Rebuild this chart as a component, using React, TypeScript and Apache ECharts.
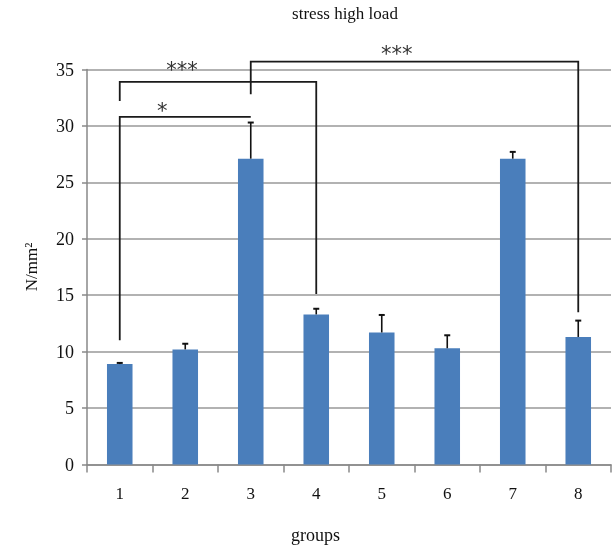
import React, { useEffect, useRef } from "react";
import * as echarts from "echarts";

const categories = ["1", "2", "3", "4", "5", "6", "7", "8"];
const means = [8.9, 10.2, 27.1, 13.3, 11.7, 10.3, 27.1, 11.3];
const errors = [0.1, 0.5, 3.2, 0.5, 1.55, 1.15, 0.6, 1.45];

// significance brackets
const bracketFrom = [0, 0, 2];
const bracketTo = [2, 3, 7];
const bracketLevel = [30.8, 33.9, 35.7];
const bracketLeftEnd = [11.0, 32.2, 32.8];
const bracketRightEnd = [30.8, 15.1, 13.5];
const bracketLabels = ["*", "***", "***"];
const bracketLabelPos = [0.65, 0.95, 4.23];
const bracketLabelValue = [31.6, 35.2, 36.6];

const yTicks = { min: 0, max: 35, interval: 5 };

const FONT = "Liberation Serif";

export default function App() {
  const ref = useRef<HTMLDivElement>(null);
  useEffect(() => {
    if (!ref.current) return;
    const chart = echarts.init(ref.current, null, { renderer: "svg" });
    const errData = means.map((m, i) => [i, m, errors[i]]);
    const bracketData = bracketFrom.map((f, i) => [
      f,
      bracketTo[i],
      bracketLevel[i],
      bracketLeftEnd[i],
      bracketRightEnd[i],
      bracketLabelPos[i],
      bracketLabelValue[i],
      i,
    ]);
    chart.setOption({
      animation: false,
      title: {
        text: "stress high load",
        left: 340,
        top: 0,
        textAlign: "center",
        textStyle: { fontFamily: FONT, fontSize: 17, fontWeight: "normal", color: "#111" },
      },
      grid: { left: 87, right: 2, top: 69.5, bottom: 86.5, containLabel: false },
      xAxis: {
        type: "category",
        data: categories,
        axisLine: { lineStyle: { color: "#888", width: 1.5 } },
        axisTick: { show: true, length: 8, lineStyle: { color: "#888", width: 1.5 } },
        axisLabel: { fontFamily: FONT, fontSize: 17, color: "#111", margin: 20 },
        splitLine: { show: false },
      },
      yAxis: {
        type: "value",
        min: yTicks.min,
        max: yTicks.max,
        interval: yTicks.interval,
        name: "N/mm²",
        nameLocation: "middle",
        nameGap: 47,
        nameRotate: 90,
        nameTextStyle: { fontFamily: FONT, fontSize: 17, color: "#111" },
        axisLine: { show: true, lineStyle: { color: "#888", width: 1.5 } },
        axisTick: { show: true, length: 5, lineStyle: { color: "#888", width: 1.5 } },
        axisLabel: { fontFamily: FONT, fontSize: 18, color: "#111", margin: 13 },
        splitLine: { show: true, lineStyle: { color: "#999", width: 1.5 } },
      },
      graphic: [
        {
          type: "text",
          left: 291,
          top: 526,
          style: { text: "groups", fontFamily: FONT, fontSize: 18, fill: "#111" },
        },
      ],
      series: [
        {
          type: "bar",
          data: means,
          barWidth: "39%",
          itemStyle: { color: "#4a7ebb" },
          z: 2,
        },
        {
          type: "custom",
          data: errData,
          encode: { x: 0, y: 1 },
          clip: false,
          z: 3,
          renderItem: (params: any, api: any) => {
            const i = api.value(0);
            const m = api.value(1);
            const e = api.value(2);
            const p0 = api.coord([i, m]);
            const p1 = api.coord([i, m + e]);
            const cap = 3;
            const style = { stroke: "#111", lineWidth: 1.6 };
            return {
              type: "group",
              children: [
                { type: "line", shape: { x1: p0[0], y1: p0[1], x2: p1[0], y2: p1[1] }, style },
                { type: "line", shape: { x1: p1[0] - cap, y1: p1[1], x2: p1[0] + cap, y2: p1[1] }, style: { stroke: "#111", lineWidth: 2 } },
              ],
            };
          },
        },
        {
          type: "custom",
          data: bracketData,
          encode: { x: 0, y: 2 },
          clip: false,
          z: 4,
          renderItem: (params: any, api: any) => {
            const f = api.value(0);
            const t = api.value(1);
            const lvl = api.value(2);
            const le = api.value(3);
            const re = api.value(4);
            const lp = api.value(5);
            const lv = api.value(6);
            const idx = api.value(7);
            const a = api.coord([f, lvl]);
            const b = api.coord([t, lvl]);
            const aE = api.coord([f, le]);
            const bE = api.coord([t, re]);
            const c0 = api.coord([0, lv]);
            const c1 = api.coord([1, lv]);
            const lx = c0[0] + lp * (c1[0] - c0[0]);
            return {
              type: "group",
              children: [
                {
                  type: "polyline",
                  shape: { points: [[aE[0], aE[1]], [a[0], a[1]], [b[0], b[1]], [bE[0], bE[1]]] },
                  style: { stroke: "#1a1a1a", lineWidth: 1.8, fill: null },
                },
                {
                  type: "text",
                  style: {
                    text: bracketLabels[idx],
                    x: lx,
                    y: c0[1] + 3,
                    align: "center",
                    verticalAlign: "middle",
                    fontFamily: "DejaVu Sans",
                    fontSize: 21,
                    fill: "#333",
                  },
                },
              ],
            };
          },
        },
      ],
    });
    return () => chart.dispose();
  }, []);
  return (
    <div
      ref={ref}
      style={{ position: "fixed", left: 0, top: 0, width: 613, height: 551 }}
    />
  );
}
